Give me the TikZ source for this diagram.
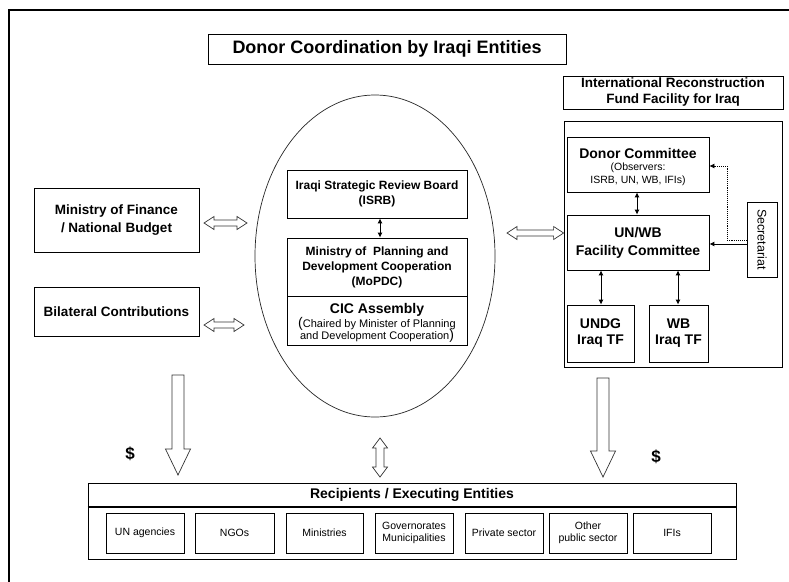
\documentclass[tikz,border=0pt]{standalone}
\usepackage{fontspec}
\setmainfont{Liberation Sans}
\usetikzlibrary{shapes.geometric,calc,arrows.meta}
\newcommand\hdarr[2]{\draw[hollow] let \p1=(#1), \p2=(#2) in (\x1,\y1) -- ++(10pt,6.5pt) -- ++(0pt,-3.5pt) -- (\x2-10pt,\y1+3pt) -- ++(0pt,3.5pt) -- (\x2,\y1) -- ++(-10pt,-6.5pt) -- ++(0pt,3.5pt) -- (\x1+10pt,\y1-3pt) -- ++(0pt,-3.5pt) -- cycle;}
\newcommand\vdarr[2]{\draw[hollow] let \p1=(#1), \p2=(#2) in (\x1,\y1) -- ++(7.5pt,-10pt) -- ++(-3.5pt,0pt) -- (\x1+4pt,\y2+10pt) -- ++(3.5pt,0pt) -- (\x1,\y2) -- ++(-7.5pt,10pt) -- ++(3.5pt,0pt) -- (\x1-4pt,\y1-10pt) -- ++(-3.5pt,0pt) -- cycle;}
\newcommand\vsarr[2]{\draw[hollow] let \p1=(#1), \p2=(#2) in (\x1-6pt,\y1) -- (\x1+6pt,\y1) -- (\x1+6pt,\y2+26pt) -- (\x1+12.5pt,\y2+26pt) -- (\x1,\y2) -- (\x1-12.5pt,\y2+26pt) -- (\x1-6pt,\y2+26pt) -- cycle;}
\begin{document}
\begin{tikzpicture}[x=1pt,y=-1pt,
 box/.style={draw=black, line width=0.8pt, inner sep=0pt, align=center},
 hollow/.style={draw=black!80, line width=0.7pt, fill=white, line join=miter},
 link/.style={line width=0.9pt, {Latex[length=5pt,width=5pt]}-{Latex[length=5pt,width=5pt]}},
 oneway/.style={line width=0.9pt, -{Latex[length=5pt,width=5pt]}},
 fT/.style={font=\fontsize{18}{21}\selectfont\bfseries},
 fI/.style={font=\fontsize{13.5}{16}\selectfont\bfseries},
 fM/.style={font=\fontsize{13.5}{18}\selectfont\bfseries},
 fB/.style={font=\fontsize{14}{18}\selectfont\bfseries},
 fU/.style={font=\fontsize{14}{16}\selectfont\bfseries},
 fS/.style={font=\fontsize{12}{15}\selectfont\bfseries},
 fR/.style={font=\fontsize{10.5}{12.5}\selectfont},
 fC/.style={font=\fontsize{11}{12}\selectfont},
 fD/.style={font=\fontsize{17}{20}\selectfont\bfseries},
]
\useasboundingbox (0,0) rectangle (789,581);
\fill[white] (0,0) rectangle (789,581);
% outer frame
\draw[line width=2pt] (9,10) rectangle (810,600);
% title
\node[box, fT, minimum width=358, minimum height=30] (title) at (387,49) {Donor Coordination by Iraqi Entities};
% IRFFI
\node[box, fI, minimum width=220, minimum height=33] (irffit) at (673,92.5) {International Reconstruction\\Fund Facility for Iraq};
\node[box, minimum width=218, minimum height=246] (irffi) at (673,244) {};
\node[box, minimum width=142, minimum height=55] (donor) at (638,164.5) {};
\node[fB] at (638,153) {Donor Committee};
\node[fR] at (638,168) {(Observers:};
\node[fR] at (638,180.5) {ISRB, UN, WB, IFIs)};
\node[box, fB, minimum width=142, minimum height=55] (unwb) at (638,242.5) {UN/WB\\Facility Committee};
\node[box, fU, minimum width=67, minimum height=57] (undg) at (600.5,333.5) {UNDG\\Iraq TF};
\node[box, fU, minimum width=59, minimum height=57] (wbtf) at (678.5,333.5) {WB\\Iraq TF};
\node[box, minimum width=30, minimum height=75] (secr) at (762,239.5) {};
\node[rotate=-90, font=\fontsize{12.5}{14}\selectfont] at (secr.center) {Secretariat};
% left boxes
\node[box, fM, minimum width=165, minimum height=64] (mof) at (116.5,220) {Ministry of Finance\\/ National Budget};
\node[box, fM, minimum width=165, minimum height=49] (bil) at (116.5,311.5) {Bilateral Contributions};
% ellipse
\node[ellipse, draw=black!85, line width=0.7pt, minimum width=240, minimum height=322, inner sep=0pt] (ell) at (375,256) {};
\node[box, fS, minimum width=180, minimum height=48] (isrb) at (377,194) {Iraqi Strategic Review Board\\(ISRB)};
\node[box, fS, minimum width=180, minimum height=58] (mopdc) at (377,267) {Ministry of\ \ Planning and\\Development Cooperation\\(MoPDC)};
\node[box, minimum width=180, minimum height=49] (cic) at (377,320.5) {};
\node[fB] at (377,309.5) {CIC Assembly};
\node[fC] at (377,323.5) {{\fontsize{14}{14}\selectfont(}Chaired by Minister of Planning};
\node[fC] at (377,335.5) {and Development Cooperation{\fontsize{14}{14}\selectfont)}};
% recipients
\node[box, minimum width=648, minimum height=76] (rec) at (412,521) {};
\draw[line width=1.8pt] (rec.west |- 0,507) -- (rec.east |- 0,507);
\node[fB] at (412,495) {Recipients / Executing Entities};
\node[box, fR, minimum width=78, minimum height=40] (ua) at (145,533) {UN agencies};
\node[box, fR, minimum width=79, minimum height=40] (ngo) at (234.5,533) {NGOs};
\node[box, fR, minimum width=77, minimum height=40] (mins) at (324.5,533) {Ministries};
\node[box, fR, minimum width=78, minimum height=40] (gov) at (414,533) {Governorates\\Municipalities};
\node[box, fR, minimum width=78, minimum height=40] (priv) at (504,533) {Private sector};
\node[box, fR, minimum width=78, minimum height=40] (oth) at (588,533) {Other\\public sector};
\node[box, fR, minimum width=78, minimum height=40] (ifi) at (672,533) {IFIs};
% dollar signs
\node[fD] (d1) at (130,454) {\$};
\node[fD] (d2) at (656,457) {\$};
% connectors inside IRFFI
\draw[link] (donor.south -| 637,0) -- (unwb.north -| 637,0);
\draw[link] (unwb.south -| 601,0) -- (undg.north -| 601,0);
\draw[link] (unwb.south -| 678,0) -- (wbtf.north -| 678,0);
\draw[link] (isrb.south -| 380,0) -- (mopdc.north -| 380,0);
\draw[oneway] (secr.west |- 0,244) -- (unwb.east |- 0,244);
\draw[oneway, densely dotted, line width=0.8pt] (secr.west |- 0,240) -- (727,240) -- (727,166) -- (donor.east |- 0,166);
% hollow arrows
\coordinate (a1l) at (204,223); \coordinate (a1r) at (247,223);
\coordinate (a2l) at (204,325); \coordinate (a2r) at (244,325);
\coordinate (a3l) at (507,233); \coordinate (a3r) at (irffi.west |- 0,233);
\hdarr{a1l}{a1r}
\hdarr{a2l}{a2r}
\hdarr{a3l}{a3r}
\coordinate (v1t) at (380,438); \coordinate (v1b) at (380,477);
\vdarr{v1t}{v1b}
\coordinate (s1t) at (178,375); \coordinate (s1b) at (178,475);
\coordinate (s2t) at (603,378); \coordinate (s2b) at (603,477);
\vsarr{s1t}{s1b}
\vsarr{s2t}{s2b}
\end{tikzpicture}
\end{document}
